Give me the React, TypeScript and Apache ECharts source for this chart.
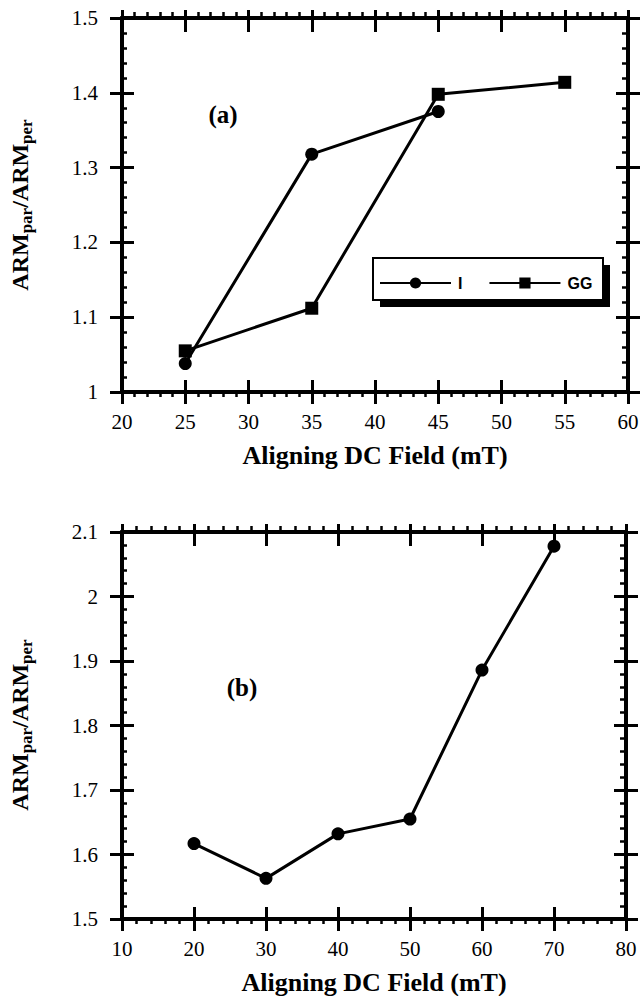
import React, { useEffect, useRef } from 'react';
import * as echarts from 'echarts';

// ---- Panel (a) data ----
const fieldI = [25, 35, 45];
const ratioI = [1.038, 1.318, 1.375];
const fieldGG = [25, 35, 45, 55];
const ratioGG = [1.055, 1.112, 1.398, 1.414];
const xTicksA = [20, 25, 30, 35, 40, 45, 50, 55, 60];
const yTicksA = [1, 1.1, 1.2, 1.3, 1.4, 1.5];

// ---- Panel (b) data ----
const fieldB = [20, 30, 40, 50, 60, 70];
const ratioB = [1.617, 1.563, 1.632, 1.655, 1.886, 2.078];
const xTicksB = [10, 20, 30, 40, 50, 60, 70, 80];
const yTicksB = [1.5, 1.6, 1.7, 1.8, 1.9, 2, 2.1];

const SERIF = "'Liberation Serif', 'Times New Roman', serif";
const SANS = "'Liberation Sans', Arial, sans-serif";
const BLACK = '#000';

const fmt = (v: number) => String(Math.round(v * 10) / 10);

function axisBase(gridIndex: number, ticks: number[]) {
  return {
    type: 'value',
    gridIndex,
    min: ticks[0],
    max: ticks[ticks.length - 1],
    interval: Math.round((ticks[1] - ticks[0]) * 1000) / 1000,
    axisLine: { show: true, lineStyle: { color: BLACK, width: 4 } },
    splitLine: { show: false },
    minorSplitLine: { show: false },
  };
}

function xAxesFor(gridIndex: number, ticks: number[]) {
  const b = axisBase(gridIndex, ticks);
  return [
    {
      ...b,
      position: 'bottom',
      axisTick: { show: true, inside: false, length: 12, lineStyle: { color: BLACK, width: 3 } },
      minorTick: { show: true, splitNumber: 5, length: 5, lineStyle: { color: BLACK, width: 2.5 } },
      axisLabel: { show: true, margin: 19, fontSize: 21, fontFamily: SERIF, color: BLACK, formatter: fmt },
      name: 'Aligning DC Field (mT)',
      nameLocation: 'middle',
      nameGap: 50,
      nameTextStyle: { fontSize: 26, fontWeight: 'bold', fontFamily: SERIF, color: BLACK },
    },
    {
      ...b,
      position: 'bottom',
      axisTick: { show: true, inside: true, length: 12, lineStyle: { color: BLACK, width: 3 } },
      minorTick: { show: false },
      axisLabel: { show: false },
    },
    {
      ...b,
      position: 'top',
      axisTick: { show: true, inside: false, length: 8, lineStyle: { color: BLACK, width: 3 } },
      minorTick: { show: true, splitNumber: 5, length: 6, lineStyle: { color: BLACK, width: 2.5 } },
      axisLabel: { show: false },
    },
    {
      ...b,
      position: 'top',
      axisTick: { show: true, inside: true, length: 14, lineStyle: { color: BLACK, width: 3 } },
      minorTick: { show: false },
      axisLabel: { show: false },
    },
  ];
}

function yAxesFor(gridIndex: number, ticks: number[]) {
  const b = axisBase(gridIndex, ticks);
  return [
    {
      ...b,
      position: 'left',
      axisTick: { show: true, inside: false, length: 12, lineStyle: { color: BLACK, width: 3 } },
      minorTick: { show: false },
      axisLabel: { show: true, margin: 24, fontSize: 21, fontFamily: SERIF, color: BLACK, formatter: fmt },
    },
    {
      ...b,
      position: 'left',
      axisTick: { show: true, inside: true, length: 12, lineStyle: { color: BLACK, width: 3 } },
      minorTick: { show: true, splitNumber: 5, length: 5, lineStyle: { color: BLACK, width: 2.5 } },
      axisLabel: { show: false },
    },
    {
      ...b,
      position: 'right',
      axisTick: { show: true, inside: false, length: 12, lineStyle: { color: BLACK, width: 3 } },
      minorTick: { show: false },
      axisLabel: { show: false },
    },
    {
      ...b,
      position: 'right',
      axisTick: { show: true, inside: true, length: 12, lineStyle: { color: BLACK, width: 3 } },
      minorTick: { show: true, splitNumber: 5, length: 6, lineStyle: { color: BLACK, width: 2.5 } },
      axisLabel: { show: false },
    },
  ];
}

function yTitle(y: number) {
  return {
    type: 'text',
    x: 20,
    y,
    rotation: Math.PI / 2,
    style: {
      text: '{a|ARM}{s|par}{a|/ARM}{s|per}',
      align: 'center',
      verticalAlign: 'middle',
      fill: BLACK,
      rich: {
        a: { fontSize: 24, fontWeight: 'bold', fontFamily: SERIF, fill: BLACK },
        s: { fontSize: 17, fontWeight: 'bold', fontFamily: SERIF, fill: BLACK, padding: [12, 0, 0, 0] },
      },
    },
  };
}

export default function App() {
  const ref = useRef<HTMLDivElement>(null);

  useEffect(() => {
    if (!ref.current) return;
    const chart = echarts.init(ref.current, undefined, { renderer: 'svg' });

    const lineCommon = {
      type: 'line',
      symbolSize: 13,
      lineStyle: { color: BLACK, width: 3 },
      itemStyle: { color: BLACK },
      clip: false,
    };

    const option: any = {
      animation: false,
      backgroundColor: '#fff',
      grid: [
        { left: 122, top: 18, width: 506, height: 374, containLabel: false, outerBoundsMode: 'none' },
        { left: 122, top: 532, width: 504, height: 387, containLabel: false, outerBoundsMode: 'none' },
      ],
      xAxis: [...xAxesFor(0, xTicksA), ...xAxesFor(1, xTicksB)],
      yAxis: [...yAxesFor(0, yTicksA), ...yAxesFor(1, yTicksB)],
      legend: {
        show: true,
        data: ['I', 'GG'],
        left: 379,
        top: 275,
        itemWidth: 71,
        itemHeight: 14,
        itemGap: 26,
        padding: 0,
        z: 10,
        textStyle: { fontFamily: SANS, fontWeight: 'bold', fontSize: 16, color: BLACK, padding: [0, 0, 0, 2] },
      },
      series: [
        {
          ...lineCommon,
          name: 'I',
          symbol: 'circle',
          xAxisIndex: 0,
          yAxisIndex: 0,
          data: fieldI.map((x, i) => [x, ratioI[i]]),
        },
        {
          ...lineCommon,
          name: 'GG',
          symbol: 'rect',
          xAxisIndex: 0,
          yAxisIndex: 0,
          data: fieldGG.map((x, i) => [x, ratioGG[i]]),
        },
        {
          ...lineCommon,
          name: 'b',
          symbol: 'circle',
          xAxisIndex: 4,
          yAxisIndex: 4,
          data: fieldB.map((x, i) => [x, ratioB[i]]),
        },
      ],
      graphic: [
        { type: 'rect', z: 5, shape: { x: 380, y: 265, width: 230, height: 42 }, style: { fill: BLACK } },
        {
          type: 'rect',
          z: 6,
          shape: { x: 373, y: 258, width: 230, height: 42 },
          style: { fill: '#fff', stroke: BLACK, lineWidth: 2 },
        },
        {
          type: 'text',
          x: 223,
          y: 114,
          style: {
            text: '(a)',
            align: 'center',
            verticalAlign: 'middle',
            font: `bold 25px ${SERIF}`,
            fill: BLACK,
          },
        },
        {
          type: 'text',
          x: 242,
          y: 687,
          style: {
            text: '(b)',
            align: 'center',
            verticalAlign: 'middle',
            font: `bold 25px ${SERIF}`,
            fill: BLACK,
          },
        },
        yTitle(205),
        yTitle(725),
      ],
    };

    chart.setOption(option);
    return () => chart.dispose();
  }, []);

  return (
    <div
      ref={ref}
      style={{ position: 'fixed', left: 0, top: 0, width: 643, height: 996, background: '#fff' }}
    />
  );
}
